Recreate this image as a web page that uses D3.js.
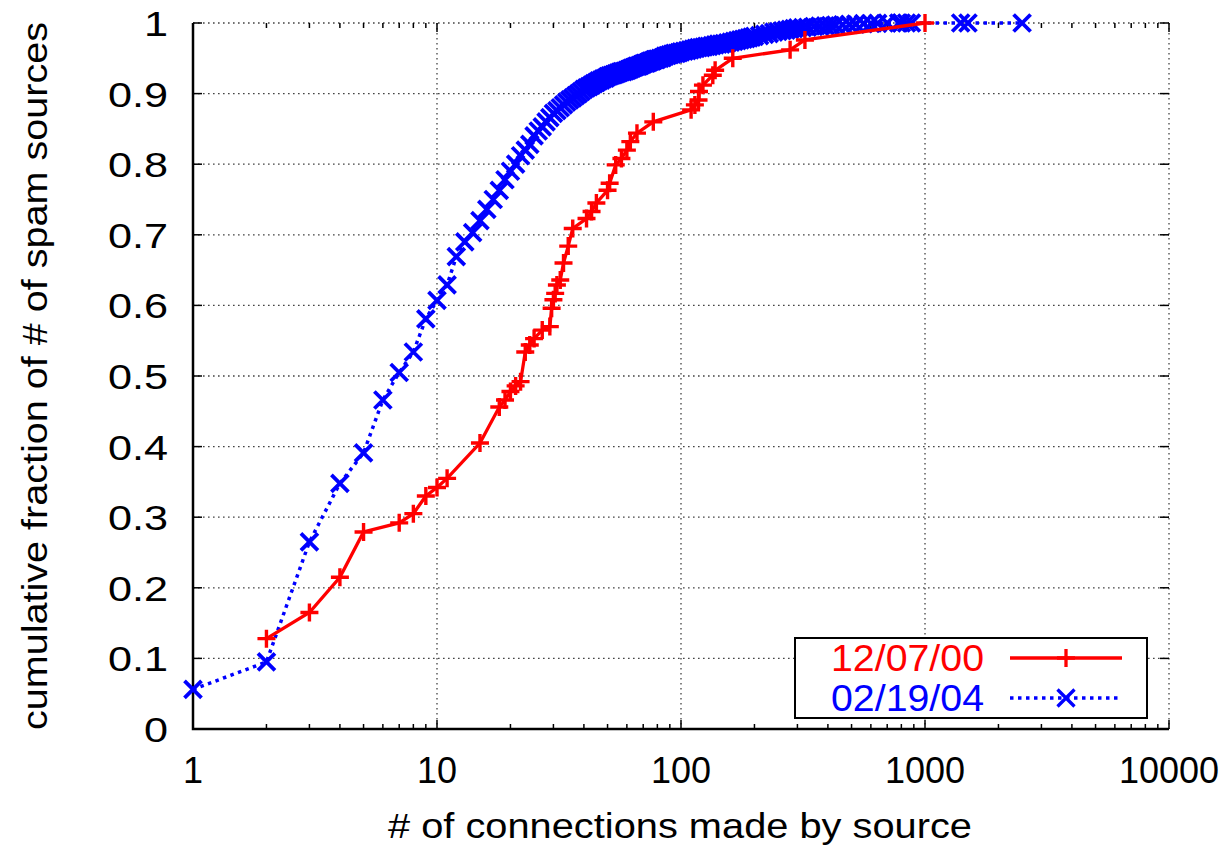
<!DOCTYPE html>
<html>
<head>
<meta charset="utf-8">
<script src="https://cdn.jsdelivr.net/npm/d3@7"></script>
<style>
  body { margin: 0; background: #fff; }
  text { font-family: "Liberation Sans", Arial, sans-serif; }
</style>
</head>
<body>
<div id="chart"></div>
<script>
// tick values
var xTicks = [1, 10, 100, 1000, 10000];
var yTicks = [0, 0.1, 0.2, 0.3, 0.4, 0.5, 0.6, 0.7, 0.8, 0.9, 1];

// series names
var seriesNames = ['12/07/00', '02/19/04'];

// 12/07/00 : [connections, cumulative fraction]
var red = [
  [2, 0.128], [3, 0.165], [4, 0.215], [5, 0.279], [7, 0.292], [8, 0.305], [9, 0.330],
  [10, 0.342], [11, 0.355], [15, 0.405], [18, 0.456], [19, 0.466], [20, 0.478],
  [21, 0.486], [22, 0.492], [23, 0.534], [24, 0.544], [25, 0.553], [27, 0.565],
  [29, 0.570], [29.5, 0.596], [30, 0.608], [30.5, 0.617], [31, 0.629], [32, 0.636],
  [33, 0.660], [34.5, 0.684], [36, 0.709], [41, 0.723], [43, 0.733], [45, 0.745],
  [50, 0.763], [51, 0.773], [54, 0.799], [57, 0.808], [60, 0.820], [62, 0.832],
  [66, 0.844], [77, 0.860], [110, 0.877], [114, 0.884], [118, 0.891], [118.5, 0.903],
  [123, 0.912], [135, 0.926], [138, 0.933], [163, 0.950], [280, 0.962], [322, 0.976],
  [1000, 1.0]
];

// 02/19/04 : [connections, cumulative fraction]
var blue = [
  [1, 0.056], [2, 0.095], [3, 0.265], [4, 0.348], [5, 0.391], [6, 0.466], [7, 0.505],
  [8, 0.534], [9, 0.581], [10, 0.607], [11, 0.629], [12, 0.669], [13, 0.690],
  [14, 0.703], [15, 0.720], [16, 0.736], [17, 0.750], [18, 0.763], [19, 0.778],
  [20, 0.790], [21, 0.800], [22, 0.812], [23, 0.820], [24, 0.828], [25, 0.840],
  [26, 0.847], [27, 0.853], [28, 0.860], [29, 0.866], [30, 0.872], [31, 0.876],
  [32, 0.880], [33, 0.884], [34, 0.888], [35, 0.891], [36, 0.894], [37, 0.897],
  [38, 0.900], [39, 0.903], [40, 0.906], [41, 0.908], [42, 0.910], [43, 0.912],
  [44, 0.914], [45, 0.916], [46, 0.918], [47, 0.919], [48, 0.921], [49, 0.922],
  [50, 0.924], [51, 0.925], [52, 0.926], [53, 0.927], [54, 0.928], [55, 0.929],
  [56, 0.930], [57, 0.931], [58, 0.931], [59, 0.932], [60, 0.933], [61, 0.934],
  [62, 0.935], [63, 0.936], [64, 0.937], [65, 0.938], [66, 0.939], [67, 0.939],
  [68, 0.940], [69, 0.941], [70, 0.942], [71, 0.943], [72, 0.943], [73, 0.944],
  [74, 0.945], [75, 0.946], [76, 0.946], [77, 0.947], [78, 0.948], [79, 0.948],
  [80, 0.949], [82, 0.950], [84, 0.951], [86, 0.953], [88, 0.954], [90, 0.955],
  [92, 0.956], [94, 0.957], [96, 0.957], [98, 0.958], [100, 0.959], [103, 0.960],
  [106, 0.961], [109, 0.962], [112, 0.963], [115, 0.964], [118, 0.965], [121, 0.965],
  [124, 0.966], [127, 0.967], [130, 0.967], [134, 0.968], [138, 0.969], [142, 0.970],
  [146, 0.970], [150, 0.971], [155, 0.972], [160, 0.973], [165, 0.974], [170, 0.975],
  [175, 0.976], [180, 0.977], [185, 0.978], [190, 0.979], [195, 0.980], [200, 0.981],
  [210, 0.982], [220, 0.984], [230, 0.985], [240, 0.987], [250, 0.988], [260, 0.989],
  [270, 0.990], [280, 0.991], [290, 0.992], [300, 0.993], [315, 0.9935], [330, 0.994],
  [350, 0.995], [370, 0.9955], [390, 0.996], [410, 0.9965], [430, 0.997], [460, 0.9975],
  [490, 0.998], [520, 0.9985], [560, 0.999], [600, 0.9993], [640, 0.9995], [700, 1.0],
  [780, 1.0], [800, 1.0], [840, 1.0], [880, 1.0], [1400, 1.0], [1500, 1.0], [2500, 1.0]
];

// layout
var W = 1232, H = 848;
var margin = {top: 23, right: 63, bottom: 119, left: 193};
var w = W - margin.left - margin.right,
    h = H - margin.top - margin.bottom;

var svg = d3.select('#chart').append('svg')
            .attr('width', W)
            .attr('height', H);

var xScale = d3.scaleLog().domain([1, 10000]).range([0, w]),
    yScale = d3.scaleLinear().domain([0, 1]).range([h, 0]);

var focus = svg.append('g')
               .attr('transform', 'translate(' + margin.left + ',' + margin.top + ')');

// grid
var grid = focus.append('g')
                .attr('stroke', '#444')
                .attr('stroke-width', 1.3)
                .attr('stroke-dasharray', '1.6,3.4');
grid.selectAll('.gx').data(xTicks).enter().append('line')
    .attr('x1', function(d) { return xScale(d); })
    .attr('x2', function(d) { return xScale(d); })
    .attr('y1', 0).attr('y2', h);
grid.selectAll('.gy').data(yTicks).enter().append('line')
    .attr('y1', function(d) { return yScale(d); })
    .attr('y2', function(d) { return yScale(d); })
    .attr('x1', 0).attr('x2', w);

// minor x ticks
var minor = [];
xTicks.slice(0, -1).forEach(function(t) {
  for (var k = 2; k <= 9; k++) minor.push(t * k);
});

var ticks = focus.append('g').attr('stroke', '#000').attr('stroke-width', 1.5);
ticks.selectAll('.mb').data(minor).enter().append('line')
     .attr('x1', function(d) { return xScale(d); })
     .attr('x2', function(d) { return xScale(d); })
     .attr('y1', h).attr('y2', h - 5);
ticks.selectAll('.mt').data(minor).enter().append('line')
     .attr('x1', function(d) { return xScale(d); })
     .attr('x2', function(d) { return xScale(d); })
     .attr('y1', 0).attr('y2', 5);
ticks.selectAll('.xb').data(xTicks).enter().append('line')
     .attr('x1', function(d) { return xScale(d); })
     .attr('x2', function(d) { return xScale(d); })
     .attr('y1', h).attr('y2', h - 9);
ticks.selectAll('.xt').data(xTicks).enter().append('line')
     .attr('x1', function(d) { return xScale(d); })
     .attr('x2', function(d) { return xScale(d); })
     .attr('y1', 0).attr('y2', 9);
ticks.selectAll('.yl').data(yTicks).enter().append('line')
     .attr('y1', function(d) { return yScale(d); })
     .attr('y2', function(d) { return yScale(d); })
     .attr('x1', 0).attr('x2', 9);
ticks.selectAll('.yr').data(yTicks).enter().append('line')
     .attr('y1', function(d) { return yScale(d); })
     .attr('y2', function(d) { return yScale(d); })
     .attr('x1', w).attr('x2', w - 9);

// left and bottom border
focus.append('path')
     .attr('d', 'M0,0V' + h + 'H' + w)
     .attr('fill', 'none')
     .attr('stroke', '#000')
     .attr('stroke-width', 2.5);

// tick labels
focus.selectAll('.xl').data(xTicks).enter().append('text')
     .attr('x', function(d) { return xScale(d); })
     .attr('y', h + 54)
     .attr('text-anchor', 'middle')
     .attr('font-size', 36)
     .text(function(d) { return d; });
// y labels are drawn a bit wide in the original
focus.selectAll('.ylab').data(yTicks).enter().append('text')
     .attr('transform', function(d) {
       return 'translate(-25,' + (yScale(d) + 13) + ')scale(1.2,1)';
     })
     .attr('text-anchor', 'end')
     .attr('font-size', 36)
     .text(function(d) { return d3.format('~g')(d); });

// axis titles
svg.append('text')
   .attr('x', 680)
   .attr('y', 838)
   .attr('text-anchor', 'middle')
   .attr('font-size', 35)
   .attr('textLength', 584)
   .attr('lengthAdjust', 'spacingAndGlyphs')
   .text('# of connections made by source');
svg.append('text')
   .attr('transform', 'translate(47,376)rotate(-90)')
   .attr('text-anchor', 'middle')
   .attr('font-size', 35)
   .attr('textLength', 708)
   .attr('lengthAdjust', 'spacingAndGlyphs')
   .text('cumulative fraction of # of spam sources');

var line = d3.line()
             .x(function(d) { return xScale(d[0]); })
             .y(function(d) { return yScale(d[1]); });

var plusPath = 'M-9,0H9M0,-9V9';
var crossPath = 'M-8.5,-8.5L8.5,8.5M-8.5,8.5L8.5,-8.5';

var plots = focus.append('g');

// 02/19/04 (drawn first)
plots.append('path')
     .datum(blue)
     .attr('d', line)
     .attr('fill', 'none')
     .attr('stroke', '#0000ff')
     .attr('stroke-width', 3.5)
     .attr('stroke-dasharray', '3.5,4.5');
plots.selectAll('.bm').data(blue).enter().append('path')
     .attr('d', crossPath)
     .attr('transform', function(d) { return 'translate(' + xScale(d[0]) + ',' + yScale(d[1]) + ')'; })
     .attr('stroke', '#0000ff')
     .attr('stroke-width', 3.8);

// 12/07/00
plots.append('path')
     .datum(red)
     .attr('d', line)
     .attr('fill', 'none')
     .attr('stroke', '#ff0000')
     .attr('stroke-width', 3.3);
plots.selectAll('.rm').data(red).enter().append('path')
     .attr('d', plusPath)
     .attr('transform', function(d) { return 'translate(' + xScale(d[0]) + ',' + yScale(d[1]) + ')'; })
     .attr('stroke', '#ff0000')
     .attr('stroke-width', 3.4);

// legend
var legend = svg.append('g');
legend.append('rect')
      .attr('x', 795).attr('y', 638)
      .attr('width', 352).attr('height', 80)
      .attr('fill', '#fff')
      .attr('stroke', '#000')
      .attr('stroke-width', 2);

var legendItems = [
  {name: seriesNames[0], color: '#ff0000', dash: null, marker: plusPath, y: 658},
  {name: seriesNames[1], color: '#0000ff', dash: '3.5,4.5', marker: crossPath, y: 698}
];
var key = legend.selectAll('.key').data(legendItems).enter().append('g');
key.append('text')
   .attr('x', 984)
   .attr('y', function(d) { return d.y + 12.5; })
   .attr('text-anchor', 'end')
   .attr('font-size', 36)
   .attr('textLength', 153)
   .attr('lengthAdjust', 'spacingAndGlyphs')
   .attr('fill', function(d) { return d.color; })
   .text(function(d) { return d.name; });
key.append('line')
   .attr('x1', 1010).attr('x2', 1122)
   .attr('y1', function(d) { return d.y; })
   .attr('y2', function(d) { return d.y; })
   .attr('stroke', function(d) { return d.color; })
   .attr('stroke-width', 3.3)
   .attr('stroke-dasharray', function(d) { return d.dash; });
key.append('path')
   .attr('d', function(d) { return d.marker; })
   .attr('transform', function(d) { return 'translate(1066,' + d.y + ')'; })
   .attr('stroke', function(d) { return d.color; })
   .attr('stroke-width', 3.3);
</script>
</body>
</html>
